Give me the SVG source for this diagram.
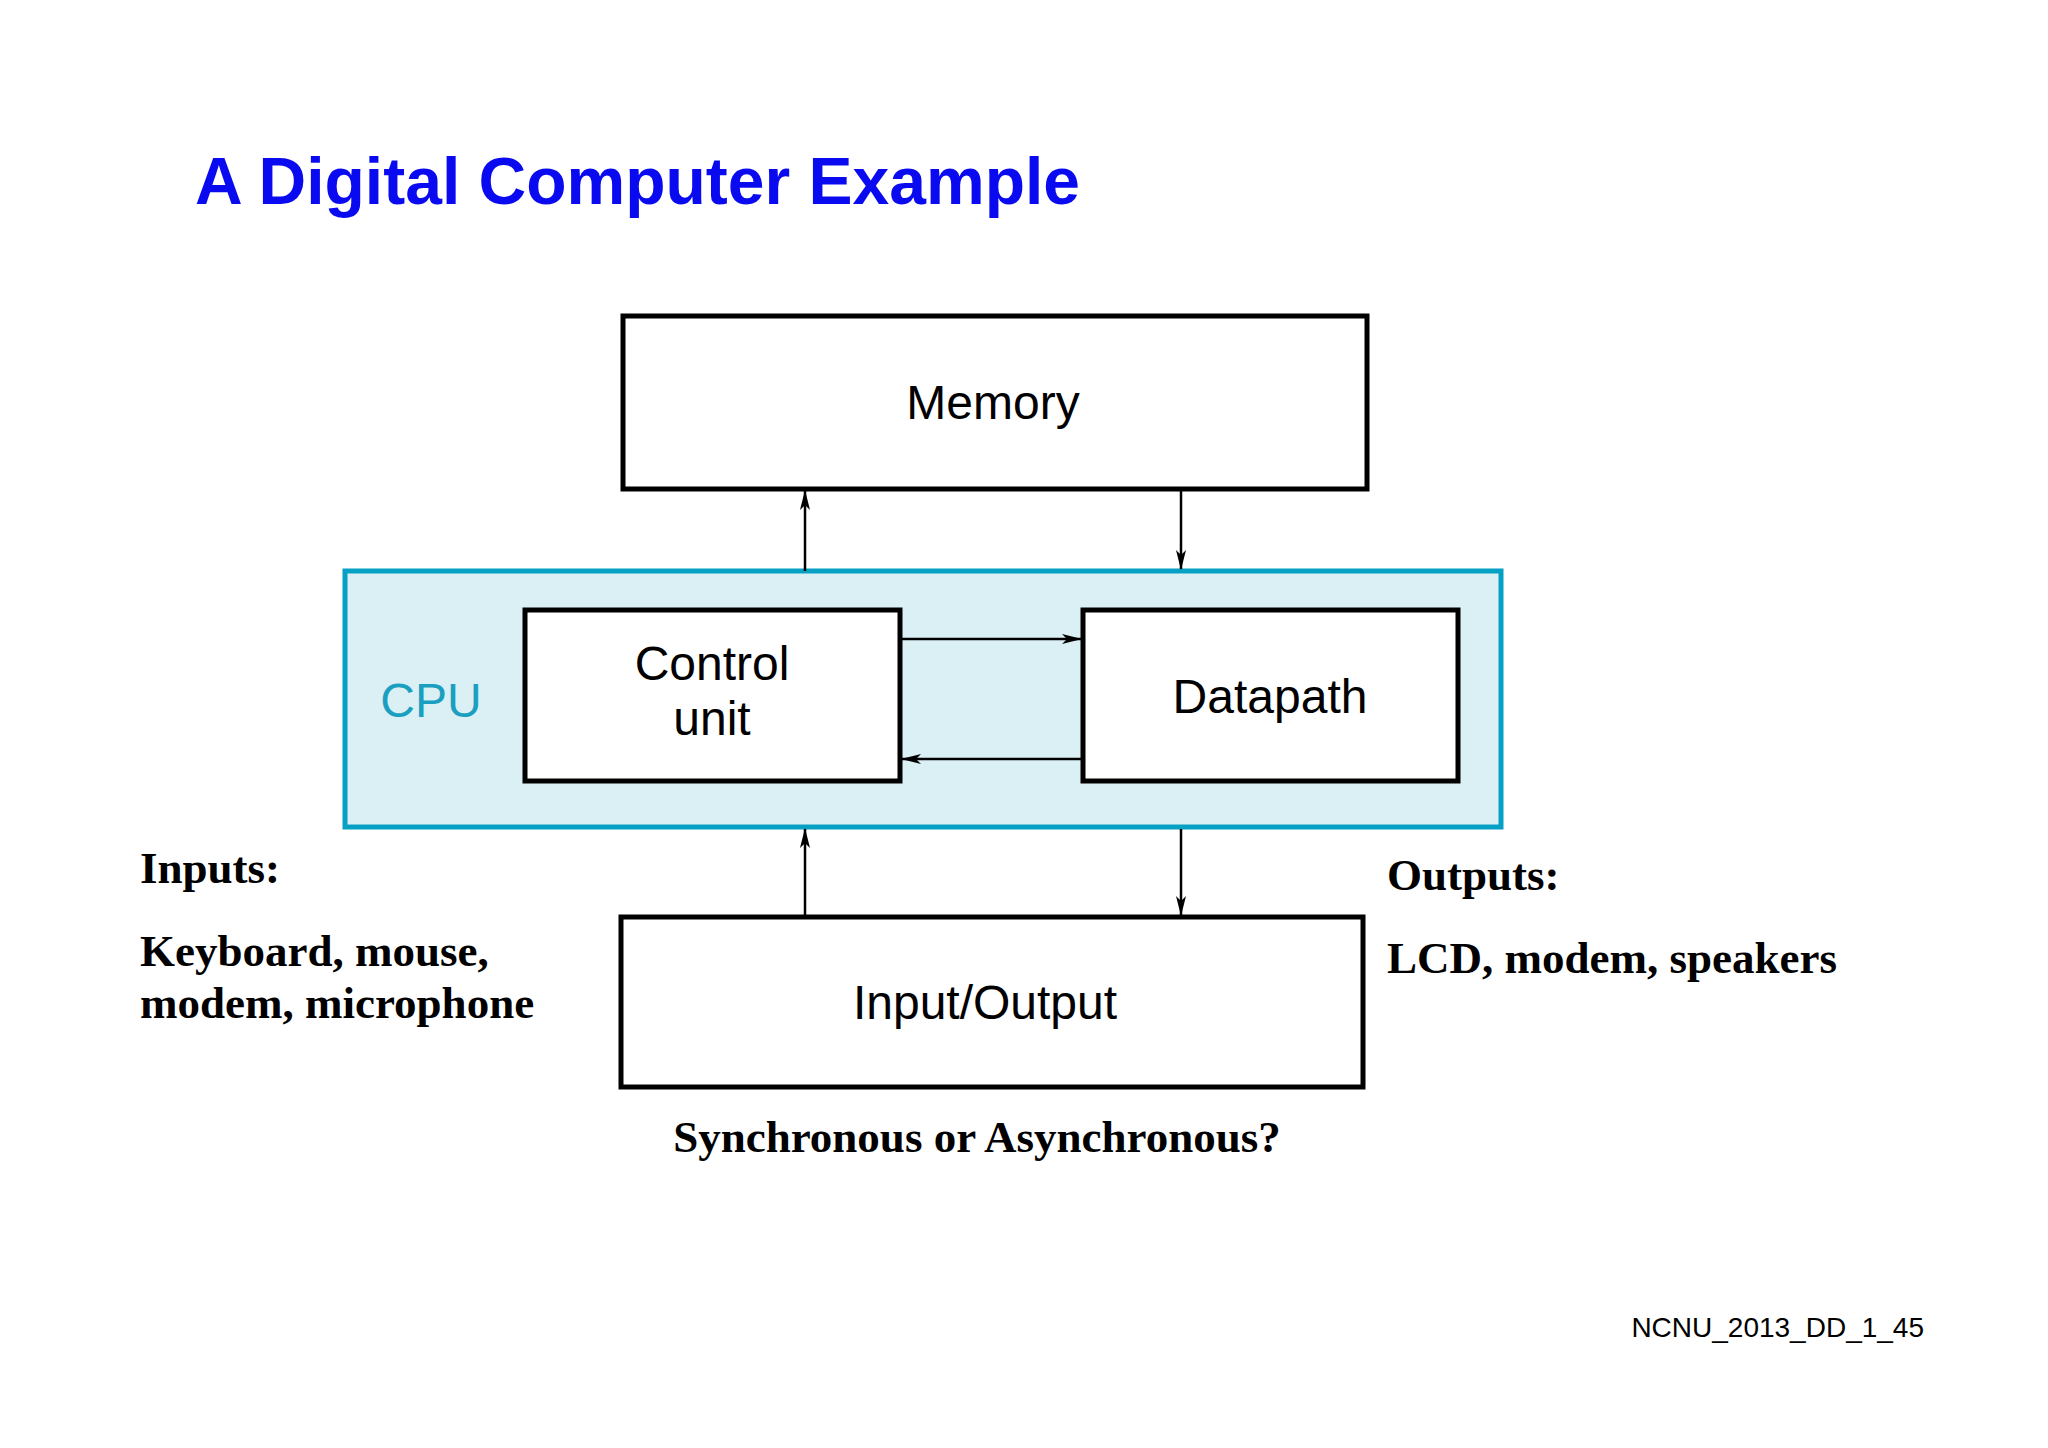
<svg xmlns="http://www.w3.org/2000/svg" width="2048" height="1448" viewBox="0 0 2048 1448">
<style>
.box{fill:#fff;stroke:#000;stroke-width:5}
.sans{font-family:"Liberation Sans",Arial,sans-serif;font-size:48px;fill:#000}
.serif{font-family:"Liberation Serif","Times New Roman",serif;font-weight:bold;font-size:45px;fill:#000}
.ln{stroke:#000;stroke-width:2.5;fill:none;marker-end:url(#ah)}
</style>
<defs>
<marker id="ah" viewBox="0 0 20 10" refX="19" refY="5" markerWidth="20" markerHeight="10" markerUnits="userSpaceOnUse" orient="auto">
<path d="M0,0 L20,5 L0,10 L5,5 Z" fill="#000"/>
</marker>
</defs>
<rect width="2048" height="1448" fill="#fff"/>
<text x="195" y="204" font-family="Liberation Sans,Arial,sans-serif" font-weight="bold" font-size="66" fill="#0a0af0">A Digital Computer Example</text>
<g id="cpu">
<rect x="345" y="571" width="1156" height="256" fill="#dbf0f5" stroke="#06a0c4" stroke-width="5"/>
<text x="431" y="717" class="sans" text-anchor="middle" fill="#1a9fc0" style="fill:#1a9fc0">CPU</text>
</g>
<g id="memory"><rect class="box" x="623" y="316" width="744" height="173"/><text class="sans" x="993" y="419" text-anchor="middle">Memory</text></g>
<g id="control"><rect class="box" x="525" y="610" width="375" height="171"/><text class="sans" x="712" y="680" text-anchor="middle">Control</text><text class="sans" x="712" y="735" text-anchor="middle">unit</text></g>
<g id="datapath"><rect class="box" x="1083" y="610" width="375" height="171"/><text class="sans" x="1270" y="713" text-anchor="middle">Datapath</text></g>
<g id="io"><rect class="box" x="621" y="917" width="742" height="170"/><text class="sans" x="985" y="1019" text-anchor="middle">Input/Output</text></g>
<g id="connectors">
<line class="ln" x1="805" y1="571" x2="805" y2="491"/>
<line class="ln" x1="1181" y1="489" x2="1181" y2="569"/>
<line class="ln" x1="902" y1="639" x2="1081" y2="639"/>
<line class="ln" x1="1083" y1="759" x2="902" y2="759"/>
<line class="ln" x1="805" y1="917" x2="805" y2="829"/>
<line class="ln" x1="1181" y1="829" x2="1181" y2="915"/>
</g>
<text class="serif" x="140" y="883">Inputs:</text>
<text class="serif" x="140" y="966">Keyboard, mouse,</text>
<text class="serif" x="140" y="1018">modem, microphone</text>
<text class="serif" x="1387" y="890">Outputs:</text>
<text class="serif" x="1387" y="973">LCD, modem, speakers</text>
<text class="serif" x="977" y="1152" text-anchor="middle">Synchronous or Asynchronous?</text>
<text x="1924" y="1337" text-anchor="end" font-family="Liberation Sans,Arial,sans-serif" font-size="28" fill="#000">NCNU_2013_DD_1_45</text>
</svg>
